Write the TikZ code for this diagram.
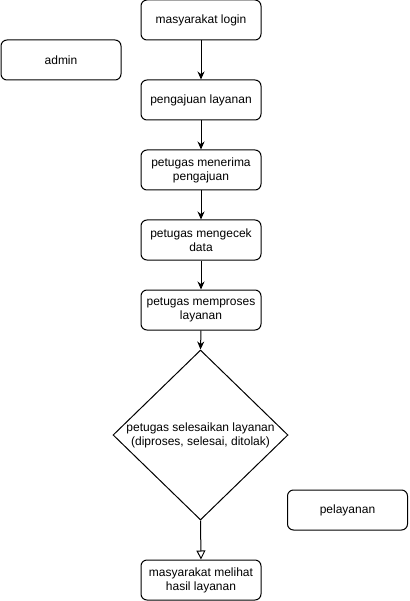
\documentclass[tikz,border=0pt]{standalone}
\usepackage{fontspec}
\setmainfont{Liberation Sans}
\usetikzlibrary{shapes.geometric,arrows.meta}

\begin{document}
\begin{tikzpicture}[x=1pt,y=-1pt,line width=1pt,
        box/.style={draw, rounded corners=6pt, minimum width=120pt, minimum height=40pt,
            align=center, inner sep=0pt, font=\fontsize{12}{14}\selectfont},
        flow/.style={-{Stealth[length=8pt,width=7pt]}},
        openflow/.style={-{Triangle[open,length=9pt,width=9pt]}}]
        \useasboundingbox (0,0) rectangle (409,601);

        \node[box] (login) at (201,20) {masyarakat login};
        \node[box] (ajukan) at (201,100) {pengajuan layanan};
        \node[box] (terima) at (201,170) {petugas menerima\\pengajuan};
        \node[box] (cek) at (201,240) {petugas mengecek\\data};
        \node[box] (proses) at (201,310) {petugas memproses\\layanan};
        \node[box] (hasil) at (201,580) {masyarakat melihat\\hasil layanan};

        % lanes
        \node[box] (admin) at (61,60) {admin};
        \node[box] (pelayanan) at (347.5,510) {pelayanan};

        \node[draw, diamond, minimum width=175pt, minimum height=170pt, inner sep=0pt] (selesai) at (200.5,435) {};
        \node[align=center, font=\fontsize{12}{14}\selectfont] (selesaitext) at (selesai.center)
            {petugas selesaikan layanan\\(diproses, selesai, ditolak)};

        \draw[flow] (login) -- (ajukan);
        \draw[flow] (ajukan) -- (terima);
        \draw[flow] (terima) -- (cek);
        \draw[flow] (cek) -- (proses);
        \draw[flow] (proses.south) -- (selesai.north);
        \draw[openflow] (selesai.south) -- (hasil.north);
\end{tikzpicture}
\end{document}
